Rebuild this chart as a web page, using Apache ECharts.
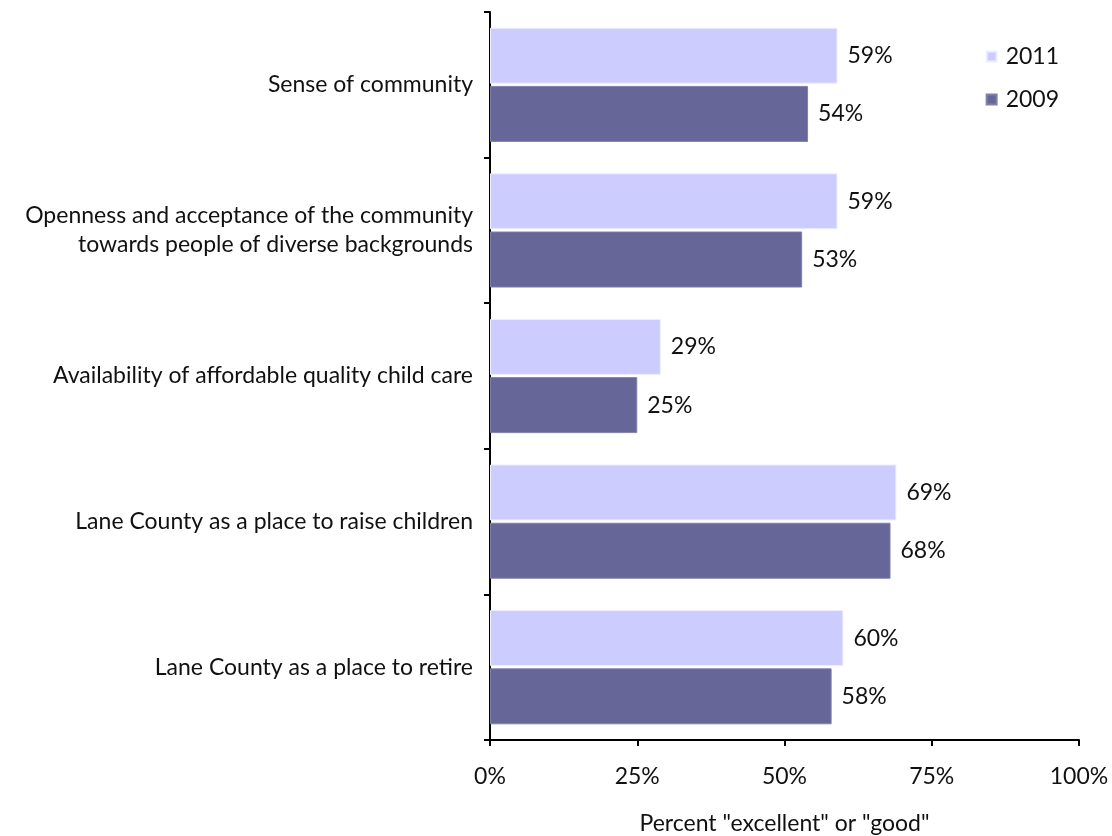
<!DOCTYPE html>
<html>
<head>
<meta charset="utf-8">
<script src="https://cdn.jsdelivr.net/npm/echarts@6/dist/echarts.min.js"></script>
<style>
  html, body { margin: 0; padding: 0; background: #fff; }
  #chart { width: 1112px; height: 836px; }
</style>
</head>
<body>
<div id="chart"></div>
<script>
// Survey items, listed top to bottom
const categories = [
  'Sense of community',
  'Openness and acceptance of the community\ntowards people of diverse backgrounds',
  'Availability of affordable quality child care',
  'Lane County as a place to raise children',
  'Lane County as a place to retire'
];
// Share rating each item "excellent" or "good" (%)
const values2011 = [59, 59, 29, 69, 60];
const values2009 = [54, 53, 25, 68, 58];
const xTicks = [0, 25, 50, 75, 100];

const FONT = 'Lato, "Open Sans", sans-serif';
const FS = 23;
const chart = echarts.init(document.getElementById('chart'), null, { renderer: 'canvas' });

const labelStyle = {
  show: true,
  position: 'right',
  distance: 10,
  formatter: p => p.value + '%',
  fontFamily: FONT,
  fontSize: FS,
  color: '#111'
};

chart.setOption({
  animation: false,
  backgroundColor: '#fff',
  textStyle: { fontFamily: FONT },
  grid: { left: 490, right: 33, top: 12, bottom: 96, containLabel: false, outerBoundsMode: 'none' },
  legend: {
    orient: 'vertical',
    right: 48,
    top: 40,
    itemWidth: 10,
    itemHeight: 10,
    itemGap: 20,
    icon: 'rect',
    textStyle: { fontFamily: FONT, fontSize: FS, color: '#111', padding: [0, 0, 0, 4] },
    data: ['2011', '2009']
  },
  xAxis: {
    type: 'value',
    min: xTicks[0],
    max: xTicks[xTicks.length - 1],
    interval: 25,
    name: 'Percent "excellent" or "good"',
    nameLocation: 'middle',
    nameGap: 72,
    nameTextStyle: { fontFamily: FONT, fontSize: FS, color: '#111' },
    axisLine: { show: true, lineStyle: { color: '#000', width: 2 } },
    axisTick: { show: true, length: 6, lineStyle: { color: '#000', width: 2 } },
    axisLabel: { formatter: v => v + '%', margin: 25, fontFamily: FONT, fontSize: FS, color: '#111' },
    splitLine: { show: false }
  },
  yAxis: {
    type: 'category',
    data: categories,
    inverse: true,
    axisLine: { show: true, lineStyle: { color: '#000', width: 2 } },
    axisTick: { show: true, length: 6, alignWithLabel: false, lineStyle: { color: '#000', width: 2 } },
    axisLabel: { margin: 17, fontFamily: FONT, fontSize: FS, color: '#111', lineHeight: 29, align: 'right' }
  },
  series: [
    {
      name: '2011',
      type: 'bar',
      data: values2011,
      barWidth: 56,
      barGap: '4%',
      itemStyle: { color: '#CCCCFF', borderColor: '#EEEEFF', borderWidth: 1 },
      label: labelStyle
    },
    {
      name: '2009',
      type: 'bar',
      data: values2009,
      barWidth: 56,
      barGap: '4%',
      itemStyle: { color: '#666699', borderColor: '#8080AA', borderWidth: 1 },
      label: labelStyle
    }
  ]
});
</script>
</body>
</html>
